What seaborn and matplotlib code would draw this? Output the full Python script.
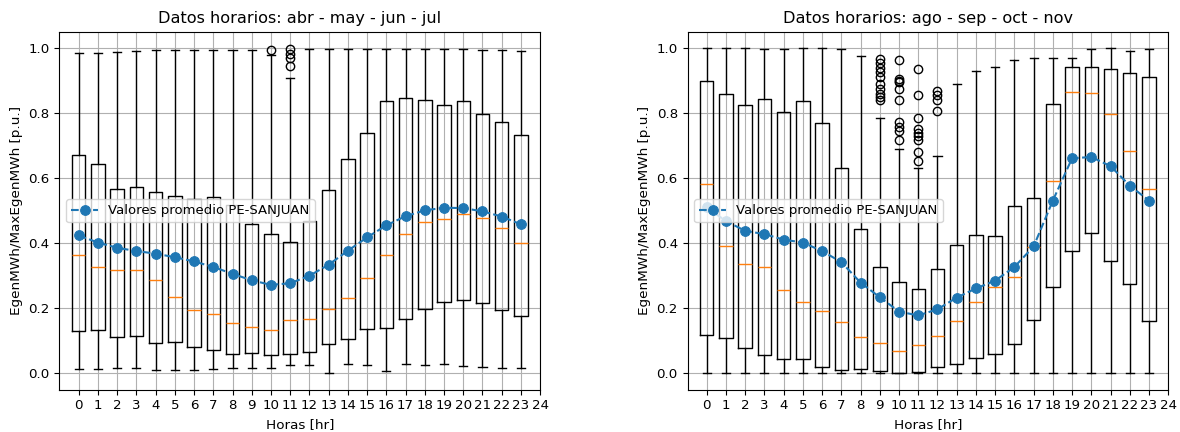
import matplotlib
matplotlib.use("Agg")
import matplotlib.pyplot as plt
import seaborn as sns
import pandas as pd

hours = list(range(24))
xtick_labels = [str(h) for h in range(25)]

# ---- Panel 1: abr - may - jun - jul ----
p1_low = [0.013, 0.013, 0.016, 0.016, 0.011, 0.009, 0.009, 0.013, 0.016, 0.016, 0.018, 0.027,
          0.025, 0.000, 0.029, 0.027, 0.008, 0.029, 0.027, 0.029, 0.022, 0.020, 0.016, 0.018]
p1_q1 = [0.130, 0.133, 0.111, 0.114, 0.093, 0.095, 0.081, 0.071, 0.061, 0.062, 0.057, 0.060,
         0.066, 0.090, 0.107, 0.135, 0.140, 0.166, 0.198, 0.220, 0.226, 0.216, 0.196, 0.175]
p1_med = [0.364, 0.327, 0.317, 0.318, 0.286, 0.234, 0.196, 0.182, 0.155, 0.144, 0.132, 0.165,
          0.168, 0.199, 0.233, 0.294, 0.363, 0.429, 0.465, 0.473, 0.489, 0.479, 0.448, 0.402]
p1_q3 = [0.672, 0.644, 0.566, 0.572, 0.557, 0.545, 0.536, 0.541, 0.516, 0.458, 0.429, 0.405,
         0.468, 0.564, 0.660, 0.739, 0.838, 0.847, 0.840, 0.825, 0.837, 0.797, 0.771, 0.734]
p1_high = [0.985, 0.985, 0.987, 0.990, 0.993, 0.993, 0.994, 0.995, 0.995, 0.995, 0.978, 0.908,
           0.996, 0.996, 0.997, 0.997, 0.996, 0.996, 0.996, 0.996, 0.996, 0.994, 0.993, 0.992]
p1_mean = [0.424, 0.402, 0.386, 0.376, 0.368, 0.357, 0.344, 0.327, 0.306, 0.286, 0.272, 0.277,
           0.300, 0.334, 0.377, 0.418, 0.455, 0.483, 0.501, 0.509, 0.508, 0.498, 0.482, 0.458]
p1_fliers = {10: [0.994], 11: [0.998, 0.983, 0.968, 0.946]}

# ---- Panel 2: ago - sep - oct - nov ----
p2_low = [0.0] * 24
p2_q1 = [0.118, 0.109, 0.078, 0.055, 0.045, 0.044, 0.021, 0.010, 0.013, 0.006, 0.000, 0.005,
         0.021, 0.030, 0.048, 0.061, 0.090, 0.163, 0.267, 0.375, 0.431, 0.346, 0.276, 0.161]
p2_med = [0.583, 0.390, 0.336, 0.327, 0.256, 0.219, 0.193, 0.158, 0.111, 0.092, 0.068, 0.086,
          0.115, 0.162, 0.220, 0.264, 0.297, 0.388, 0.590, 0.865, 0.863, 0.797, 0.684, 0.567]
p2_q3 = [0.898, 0.858, 0.824, 0.844, 0.803, 0.837, 0.769, 0.631, 0.444, 0.328, 0.280, 0.258,
         0.320, 0.395, 0.424, 0.421, 0.513, 0.540, 0.828, 0.943, 0.941, 0.936, 0.924, 0.912]
p2_high = [1.0, 1.0, 1.0, 0.997, 0.997, 1.0, 1.0, 0.997, 0.975, 0.784, 0.690, 0.631,
           0.668, 0.890, 0.929, 0.941, 0.962, 0.970, 0.970, 0.970, 0.997, 1.0, 0.990, 0.997]
p2_mean = [0.510, 0.468, 0.438, 0.428, 0.411, 0.402, 0.376, 0.342, 0.279, 0.234, 0.190, 0.178,
           0.197, 0.233, 0.261, 0.285, 0.327, 0.390, 0.531, 0.661, 0.665, 0.637, 0.577, 0.531]
p2_fliers = {
    9: [0.965, 0.955, 0.940, 0.925, 0.910, 0.890, 0.875, 0.860, 0.850, 0.840],
    10: [0.964, 0.905, 0.900, 0.895, 0.875, 0.839, 0.772, 0.757, 0.746, 0.718],
    11: [0.935, 0.857, 0.785, 0.751, 0.740, 0.730, 0.718, 0.680, 0.654],
    12: [0.867, 0.854, 0.839, 0.805],
}

titles = ["Datos horarios: abr - may - jun - jul", "Datos horarios: ago - sep - oct - nov"]
legend_label = "Valores promedio PE-SANJUAN"
xlabel = "Horas [hr]"
ylabel = "EgenMWh/MaxEgenMWh [p.u.]"


def draw(ax, low, q1, med, q3, high, mean, fliers, title):
    stats = []
    for i in hours:
        stats.append(dict(whislo=low[i], q1=q1[i], med=med[i], q3=q3[i],
                          whishi=high[i], fliers=fliers.get(i, [])))
    ax.bxp(stats, positions=hours, widths=0.7, capwidths=0.42, showfliers=True,
           manage_ticks=False)
    df = pd.DataFrame({"hora": hours, "media": mean})
    sns.lineplot(data=df, x="hora", y="media", ax=ax, marker="o", linestyle="--",
                 color="#1f77b4", markersize=7, markeredgecolor="#1f77b4",
                 linewidth=1.5, label=legend_label, zorder=3)
    ax.set_xticks(range(25))
    ax.set_xticklabels(xtick_labels)
    ax.set_xlim(-1, 24)
    ax.set_ylim(-0.05, 1.05)
    ax.set_yticks([0.0, 0.2, 0.4, 0.6, 0.8, 1.0])
    ax.tick_params(labelsize=9.6)
    ax.grid(True)
    ax.set_title(title, fontsize=11.6)
    ax.set_xlabel(xlabel, fontsize=9.7)
    ax.set_ylabel(ylabel, fontsize=9.7)
    ax.legend(loc="center left", fontsize=9.5)


fig, axes = plt.subplots(1, 2, figsize=(11.8, 4.32), dpi=100)
fig.subplots_adjust(left=0.0504, right=0.990, bottom=0.098, top=0.9266, wspace=0.3066)
draw(axes[0], p1_low, p1_q1, p1_med, p1_q3, p1_high, p1_mean, p1_fliers, titles[0])
draw(axes[1], p2_low, p2_q1, p2_med, p2_q3, p2_high, p2_mean, p2_fliers, titles[1])
fig.savefig("out.png", dpi=100)
